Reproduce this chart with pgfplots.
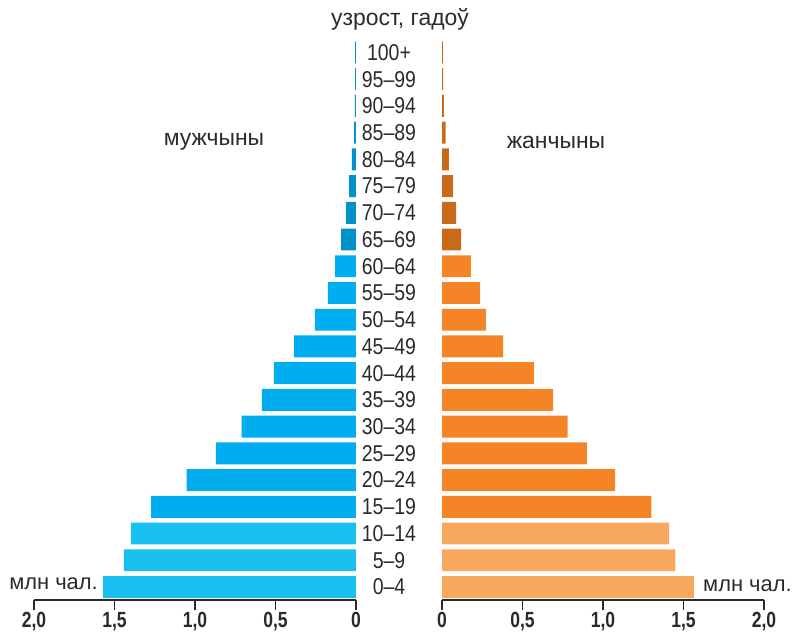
\documentclass[border=0pt]{standalone}
\usepackage{pgfplots}
\pgfplotsset{compat=1.18}
\usepackage{fontspec}
\setmainfont{Liberation Sans}
\newfontfamily\agefont[FakeStretch=0.85]{Liberation Sans}
\newfontfamily\tickfont[FakeStretch=0.8]{Liberation Sans}
\newcommand\tk[1]{\mbox{\tickfont\bfseries\fontsize{22}{24}\selectfont #1}}
\definecolor{mblueA}{HTML}{19C0F0}
\definecolor{mblueB}{HTML}{00AEEF}
\definecolor{mblueC}{HTML}{0092C9}
\definecolor{forgA}{HTML}{F8A85E}
\definecolor{forgB}{HTML}{F58426}
\definecolor{forgC}{HTML}{C96A1B}
\definecolor{txt}{HTML}{2B2A29}

\pgfplotstableread{
y v
0 1.571
1 1.441
2 1.398
}\maleA
\pgfplotstableread{
y v
3 1.273
4 1.052
5 0.870
6 0.710
7 0.585
8 0.510
9 0.385
10 0.255
11 0.174
12 0.130
}\maleB
\pgfplotstableread{
y v
13 0.093
14 0.062
15 0.043
16 0.025
17 0.012
18 0.007
19 0.006
20 0.006
}\maleC
\pgfplotstableread{
y v
0 1.565
1 1.450
2 1.410
}\femA
\pgfplotstableread{
y v
3 1.300
4 1.075
5 0.900
6 0.780
7 0.690
8 0.570
9 0.380
10 0.273
11 0.236
12 0.180
}\femB
\pgfplotstableread{
y v
13 0.118
14 0.087
15 0.068
16 0.043
17 0.023
18 0.012
19 0.007
20 0.006
}\femC

\pgfplotsset{pyr/.style={
  scale only axis, width=322bp, height=560.9bp,
  xmin=0, xmax=2, ymin=-0.487, ymax=20.5,
  xbar, bar width=0.82, bar shift=0pt,
  axis x line*=bottom, axis y line*=left,
  y axis line style={draw=none}, ytick style={draw=none},
  x axis line style={-, draw=txt, line width=1.2bp},
  xtick style={draw=txt, line width=1.2bp},
  tick align=outside, major tick length=10bp,
  xtick={0,0.5,1,1.5,2},
  xticklabels={\tk{0},\tk{0,5},\tk{1,0},\tk{1,5},\tk{2,0}},
  xticklabel style={text=txt, inner sep=0pt, yshift=-2bp},
  ytick={0,...,20},
  clip=false,
}}

\begin{document}
\begin{tikzpicture}
\useasboundingbox (0,0) rectangle (792bp,636bp);
\begin{axis}[pyr, at={(34bp,36bp)}, anchor=south west, x dir=reverse, yticklabels={}]
\addplot[draw=none, fill=mblueA] table[x=v, y=y] {\maleA};
\addplot[draw=none, fill=mblueB] table[x=v, y=y] {\maleB};
\addplot[draw=none, fill=mblueC] table[x=v, y=y] {\maleC};
\end{axis}
\begin{axis}[pyr, at={(442bp,36bp)}, anchor=south west,
  yticklabels={0–4,5–9,10–14,15–19,20–24,25–29,30–34,35–39,40–44,45–49,50–54,55–59,60–64,65–69,70–74,75–79,80–84,85–89,90–94,95–99,100+},
  yticklabel style={anchor=center, xshift=-43bp, font=\agefont\fontsize{23}{25}\selectfont, text=txt}]
\addplot[draw=none, fill=forgA] table[x=v, y=y] {\femA};
\addplot[draw=none, fill=forgB] table[x=v, y=y] {\femB};
\addplot[draw=none, fill=forgC] table[x=v, y=y] {\femC};
\end{axis}
\node[text=txt, font=\fontsize{23}{25}\selectfont] at (400bp,617bp) {узрост, гадоў};
\node[text=txt, font=\fontsize{23}{25}\selectfont] at (214bp,494bp) {мужчыны};
\node[text=txt, font=\fontsize{23}{25}\selectfont] at (556bp,494bp) {жанчыны};
\node[text=txt, anchor=east, inner sep=0pt, font=\fontsize{22}{24}\selectfont] at (98bp,52bp) {млн чал.};
\node[text=txt, anchor=west, inner sep=0pt, font=\fontsize{22}{24}\selectfont] at (703bp,50bp) {млн чал.};
\end{tikzpicture}
\end{document}
